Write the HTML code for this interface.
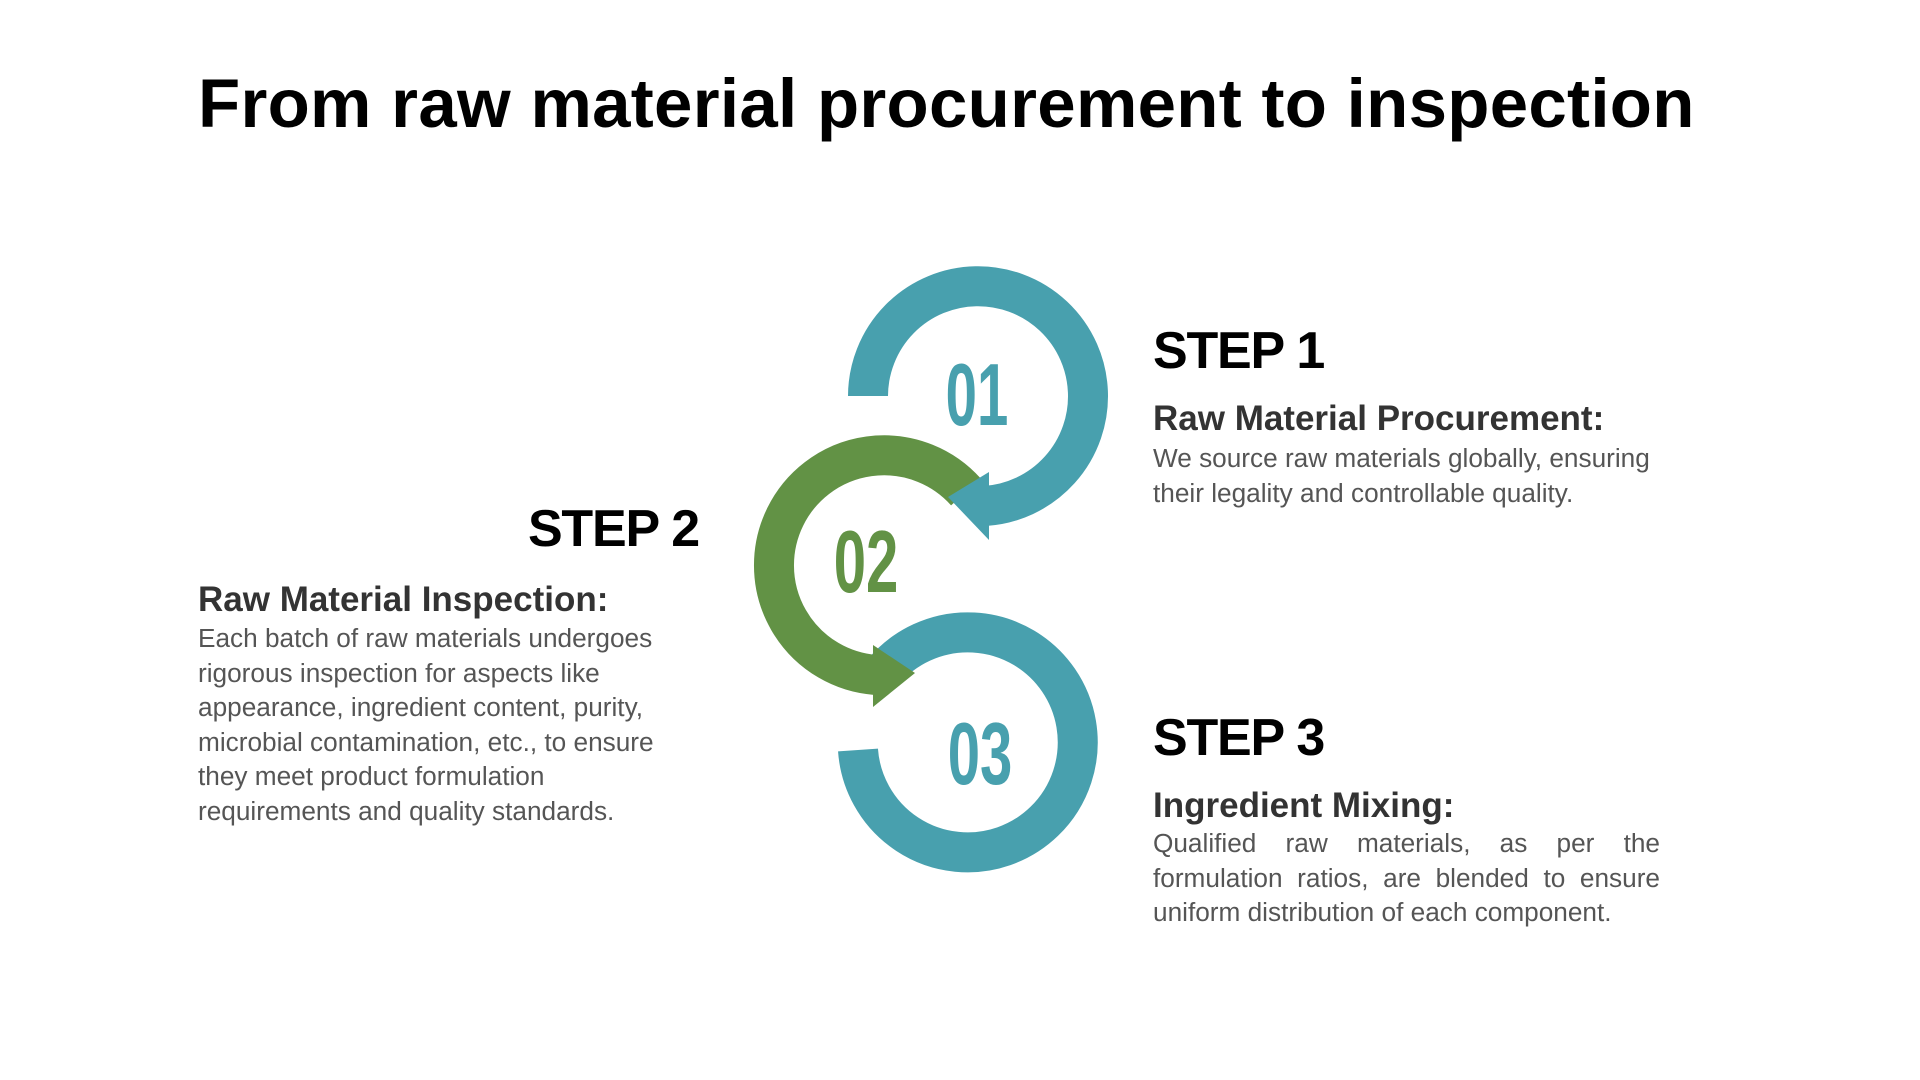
<!DOCTYPE html>
<html><head><meta charset="utf-8"><style>
body{margin:0;width:1920px;height:1080px;background:#fff;position:relative;overflow:hidden;font-family:"Liberation Sans",sans-serif}
.a{position:absolute;white-space:nowrap}
.t{left:198px;top:64px;font-size:69px;font-weight:bold;color:#000;letter-spacing:0.3px}
.s{font-size:52px;font-weight:bold;color:#000;letter-spacing:-1.2px}
.h{font-size:35px;font-weight:bold;color:#333}
.b{font-size:26.2px;color:#555;line-height:34.6px;white-space:normal}
</style></head><body>
<div class="a t">From raw material procurement to inspection</div>
<svg class="a" style="left:0;top:0" width="1920" height="1080">
<g fill="none" stroke-width="40">
<path d="M858 750 A110 110 0 1 0 884 671" stroke="#48A0AE"/>
<path d="M966 492 A110 110 0 1 0 876 675" stroke="#629245"/>
<path d="M868 396 A110 110 0 1 1 985 506" stroke="#48A0AE"/>
</g>
<polygon points="989,472 989,540 948,497" fill="#48A0AE"/>
<polygon points="873,645 873,707 915,673" fill="#629245"/>
<g font-family="Liberation Sans Narrow, Liberation Sans, sans-serif" font-weight="bold" font-size="88" text-anchor="middle">
<text x="977" y="425" fill="#48A0AE" transform="translate(977 0) scale(0.64 1) translate(-977 0)">01</text>
<text x="866" y="592" fill="#629245" transform="translate(866 0) scale(0.66 1) translate(-866 0)">02</text>
<text x="980" y="784" fill="#48A0AE" transform="translate(980 0) scale(0.66 1) translate(-980 0)">03</text>
</g>
</svg>
<div class="a s" style="left:1153px;top:321px">STEP 1</div>
<div class="a h" style="left:1153px;top:399px">Raw Material Procurement:</div>
<div class="a b" style="left:1153px;top:441px;width:530px">We source raw materials globally, ensuring their legality and controllable quality.</div>
<div class="a s" style="left:491px;top:499px;width:208px;text-align:right">STEP 2</div>
<div class="a h" style="left:198px;top:580px">Raw Material Inspection:</div>
<div class="a b" style="left:198px;top:621px;width:480px">Each batch of raw materials undergoes rigorous inspection for aspects like appearance, ingredient content, purity, microbial contamination, etc., to ensure they meet product formulation requirements and quality standards.</div>
<div class="a s" style="left:1153px;top:708px">STEP 3</div>
<div class="a h" style="left:1153px;top:786px">Ingredient Mixing:</div>
<div class="a b" style="left:1153px;top:826px;width:507px;text-align:justify">Qualified raw materials, as per the formulation ratios, are blended to ensure uniform distribution of each component.</div>
</body></html>
